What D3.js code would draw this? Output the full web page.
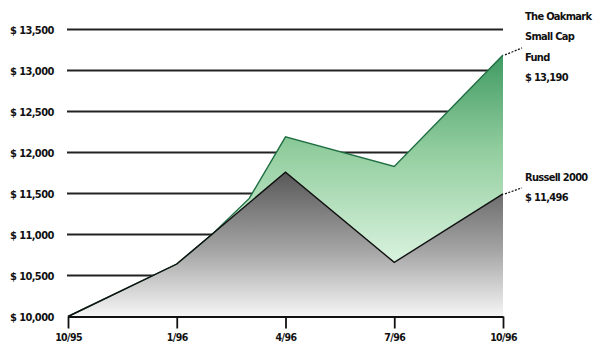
<!DOCTYPE html>
<html>
<head>
<meta charset="utf-8">
<script src="https://cdn.jsdelivr.net/npm/d3@7"></script>
<style>
  html, body { margin: 0; padding: 0; background: #fff; }
  svg { display: block; }
  text { font-family: "Liberation Sans Narrow", "DejaVu Sans Condensed", "Liberation Sans", sans-serif; font-weight: bold; fill: #111; }
</style>
</head>
<body>
<svg id="chart" width="608" height="354"></svg>
<script>
// Growth of $10,000 — month offsets from 10/95
const tickLabels = ["10/95", "1/96", "4/96", "7/96", "10/96"];
const tickMonths = [0, 3, 6, 9, 12];
const yTicks = [10000, 10500, 11000, 11500, 12000, 12500, 13000, 13500];

const fundMonths = [0, 3, 4, 5, 6, 9, 12];
const fundValues = [10000, 10640, 11013, 11440, 12190, 11830, 13190];

const indexMonths = [0, 3, 6, 9, 12];
const indexValues = [10000, 10640, 11760, 10660, 11496];

const fundName = ["The Oakmark", "Small Cap", "Fund", "$ 13,190"];
const indexName = ["Russell 2000", "$ 11,496"];

const svg = d3.select("#chart");
const x = d3.scaleLinear().domain([0, 12]).range([68, 503]);
const y = d3.scaleLinear().domain([10000, 13500]).range([316.5, 29.5]);

const defs = svg.append("defs");
const gGray = defs.append("linearGradient").attr("id", "gray")
  .attr("gradientUnits", "userSpaceOnUse").attr("x1", 0).attr("x2", 0)
  .attr("y1", y(11800)).attr("y2", y(10000));
gGray.append("stop").attr("offset", 0).attr("stop-color", "#555555");
gGray.append("stop").attr("offset", 0.55).attr("stop-color", "#a4a4a4");
gGray.append("stop").attr("offset", 1).attr("stop-color", "#f6f6f6");

const gGreen = defs.append("linearGradient").attr("id", "green")
  .attr("gradientUnits", "userSpaceOnUse").attr("x1", 0).attr("x2", 0)
  .attr("y1", y(13200)).attr("y2", y(10600));
gGreen.append("stop").attr("offset", 0).attr("stop-color", "#3f9a62");
gGreen.append("stop").attr("offset", 0.45).attr("stop-color", "#92cd9e");
gGreen.append("stop").attr("offset", 1).attr("stop-color", "#ddf5e2");

// horizontal gridlines and dollar labels
svg.append("g").selectAll("line").data(yTicks.slice(1)).join("line")
  .attr("x1", 67).attr("x2", 503)
  .attr("y1", d => y(d)).attr("y2", d => y(d))
  .attr("stroke", "#222").attr("stroke-width", 1.8);

const fmt = d3.format(",");
svg.append("g").selectAll("text").data(yTicks).join("text")
  .attr("x", 10).attr("y", d => y(d) + 4)
  .attr("font-size", 11).attr("letter-spacing", -0.6)
  .text(d => "$ " + fmt(d));

const fundPts = fundMonths.map((m, i) => [m, fundValues[i]]);
const indexPts = indexMonths.map((m, i) => [m, indexValues[i]]);

const area = d3.area().x(d => x(d[0])).y0(y(10000)).y1(d => y(d[1]));
const line = d3.line().x(d => x(d[0])).y(d => y(d[1]));

svg.append("path").datum(fundPts).attr("d", area).attr("fill", "url(#green)");
svg.append("path").datum(indexPts).attr("d", area).attr("fill", "url(#gray)");
svg.append("path").datum(fundPts).attr("d", line)
  .attr("fill", "none").attr("stroke", "#1f6e42").attr("stroke-width", 1.4);
svg.append("path").datum(indexPts).attr("d", line)
  .attr("fill", "none").attr("stroke", "#111").attr("stroke-width", 1.4);

// x axis
const xAxis = d3.axisBottom(x).tickValues(tickMonths)
  .tickFormat((d, i) => tickLabels[i]).tickSize(12).tickSizeOuter(0);
const ax = svg.append("g").attr("transform", `translate(0,${y(10000)})`).call(xAxis);
ax.select(".domain").attr("stroke", "#111").attr("stroke-width", 1.8);
ax.selectAll(".tick line").attr("stroke", "#111").attr("stroke-width", 1.8);
ax.selectAll(".tick text").attr("font-size", 10.5).attr("letter-spacing", -0.6)
  .attr("dy", "0.9em").attr("fill", "#111")
  .style("font-family", "'Liberation Sans Narrow', 'DejaVu Sans Condensed', sans-serif")
  .style("font-weight", "bold");

// end labels with dashed leaders
const lastF = fundPts[fundPts.length - 1];
const lastI = indexPts[indexPts.length - 1];
svg.append("line").attr("x1", x(lastF[0]) + 2).attr("y1", y(lastF[1]))
  .attr("x2", 522).attr("y2", y(lastF[1]) - 7)
  .attr("stroke", "#111").attr("stroke-width", 1.2).attr("stroke-dasharray", "2,1.5");
svg.append("line").attr("x1", x(lastI[0]) + 2).attr("y1", y(lastI[1]))
  .attr("x2", 522).attr("y2", y(lastI[1]) - 6)
  .attr("stroke", "#111").attr("stroke-width", 1.2).attr("stroke-dasharray", "2,1.5");

svg.append("g").selectAll("text").data(fundName).join("text")
  .attr("x", 525).attr("y", (d, i) => 20 + i * 20.3)
  .attr("font-size", 11).attr("letter-spacing", -0.7).text(d => d);
svg.append("g").selectAll("text").data(indexName).join("text")
  .attr("x", 525).attr("y", (d, i) => 181 + i * 19.5)
  .attr("font-size", 11).attr("letter-spacing", -0.7).text(d => d);
</script>
</body>
</html>
